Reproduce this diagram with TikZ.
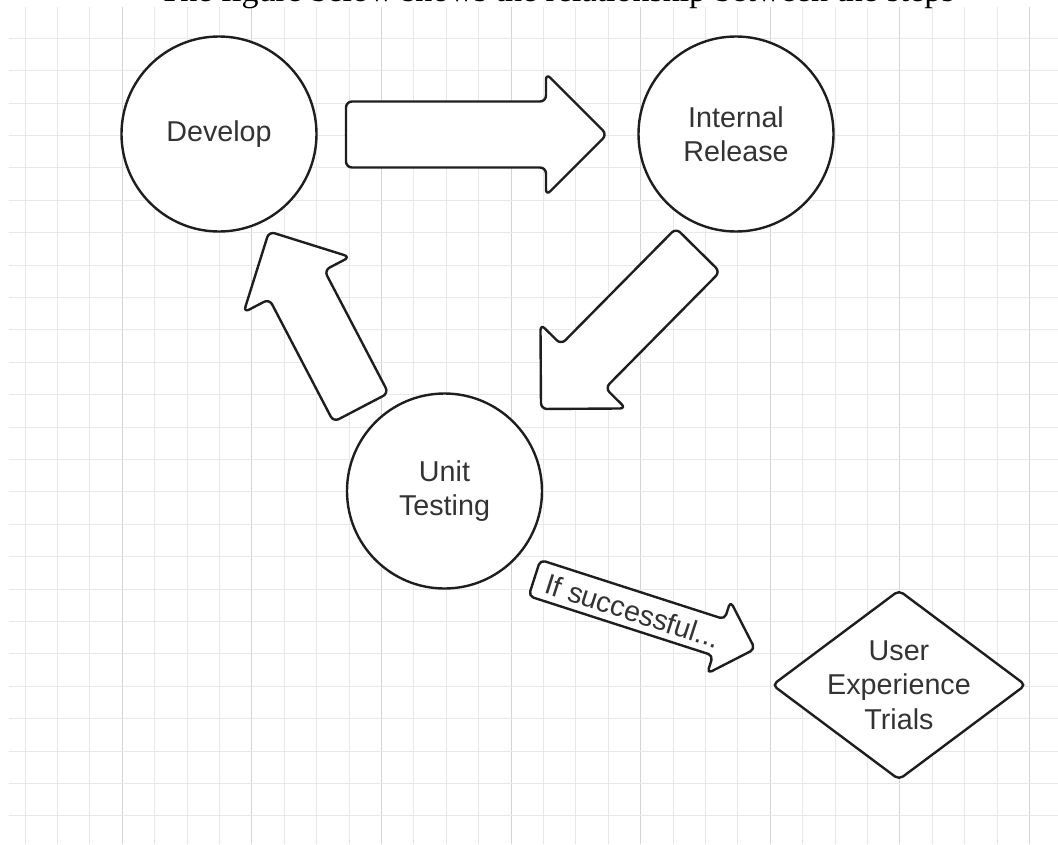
\documentclass[tikz,border=0pt]{standalone}
\usepackage{fontspec}
\setmainfont{Liberation Sans}
\newfontfamily\captionserif{Liberation Serif}
\usetikzlibrary{shapes.geometric}

\definecolor{ink}{HTML}{1E1E1E}
\definecolor{labelgray}{HTML}{333333}
\definecolor{gridminor}{HTML}{E8E8E8}
\definecolor{gridmajor}{HTML}{D4D4D4}

\tikzset{
  stepcircle/.style={circle, draw=ink, line width=2.4pt, fill=white,
    minimum size=195pt, inner sep=0pt},
  decision/.style={diamond, draw=ink, line width=2.4pt, fill=white,
    minimum width=254pt, minimum height=190pt, inner sep=0pt, rounded corners=5pt},
  steptext/.style={text=labelgray, align=center, inner sep=0pt,
    font=\fontsize{28.7}{34.4}\selectfont},
  blockarrow/.style={draw=ink, line width=2.4pt, fill=white,
    rounded corners=6pt, line join=round},
  gridline/.style={gridminor, line width=1pt},
  gridbold/.style={gridmajor, line width=1pt},
}

% Block arrow from coordinate #2 (tail centre) to coordinate #3 (tip):
% #4 shaft half-width, #5 head half-width, #6 head length (all in pt).
\newcommand\blockarrow[6][]{%
  \pgfpointdiff{\pgfpointanchor{#2}{center}}{\pgfpointanchor{#3}{center}}%
  \pgfgetlastxy\bax\bay
  \pgfmathsetmacro\baang{atan2(\bay,\bax)}%
  \pgfmathsetmacro\balen{veclen(\bax,\bay)}%
  \pgfmathsetmacro\baneck{\balen-#6}%
  \begin{scope}[shift={(#2)},rotate=\baang]
    \draw[blockarrow,#1] (0pt,#4pt) -- (\baneck pt,#4pt) -- (\baneck pt,#5pt)
      -- (\balen pt,0pt) -- (\baneck pt,-#5pt) -- (\baneck pt,-#4pt)
      -- (0pt,-#4pt) -- cycle;
  \end{scope}}

\begin{document}
\begin{tikzpicture}[x=1pt,y=-1pt]
  \useasboundingbox (0,0) rectangle (1058,844);
  \clip (0,0) rectangle (1058,844);

  % background grid
  \foreach \k in {0,...,31}
    \draw[gridline] ({25+32.4*\k},6.7) -- ({25+32.4*\k},844);
  \foreach \k in {3,7,...,31}
    \draw[gridbold] ({25+32.4*\k},6.7) -- ({25+32.4*\k},844);
  \foreach \k in {0,...,24}
    \draw[gridline] (9,{38.3+32.4*\k}) -- (1058,{38.3+32.4*\k});

  % caption line running off the top edge
  \node[anchor=base, inner sep=0pt, font=\captionserif\fontsize{34}{40}\selectfont]
    (caption) at (557,1) {The figure below shows the relationship between the steps};

  % process steps
  \node[stepcircle] (dev)  at (219,134)   {};
  \node[stepcircle] (rel)  at (736,134)   {};
  \node[stepcircle] (unit) at (444.5,491) {};
  \node[decision]   (uxt)  at (899,685)   {};

  \node[steptext] (devtxt)  at (dev)  {Develop};
  \node[steptext] (reltxt)  at (rel)  {Internal\\Release};
  \node[steptext] (unittxt) at (unit) {Unit\\Testing};
  \node[steptext] (uxttxt)  at (uxt)  {User\\Experience\\Trials};

  % block arrows between the steps
  \coordinate (a1s) at (346,134.5);  \coordinate (a1e) at (607,134.5);
  \coordinate (a2s) at (698,250);    \coordinate (a2e) at (541,409);
  \coordinate (a3s) at (361,407.5);  \coordinate (a3e) at (269,231.5);
  \coordinate (a4s) at (534.5,578);  \coordinate (a4e) at (755,649);

  \blockarrow{a1s}{a1e}{33}{61}{61}
  \blockarrow{a2s}{a2e}{31}{60}{60}
  \blockarrow{a3s}{a3e}{31}{60}{60}
  \blockarrow[rounded corners=5pt]{a4s}{a4e}{19}{38}{38}

  \node[steptext, rotate=-17.85] (ifok) at (633,611) {If successful...};
\end{tikzpicture}
\end{document}
